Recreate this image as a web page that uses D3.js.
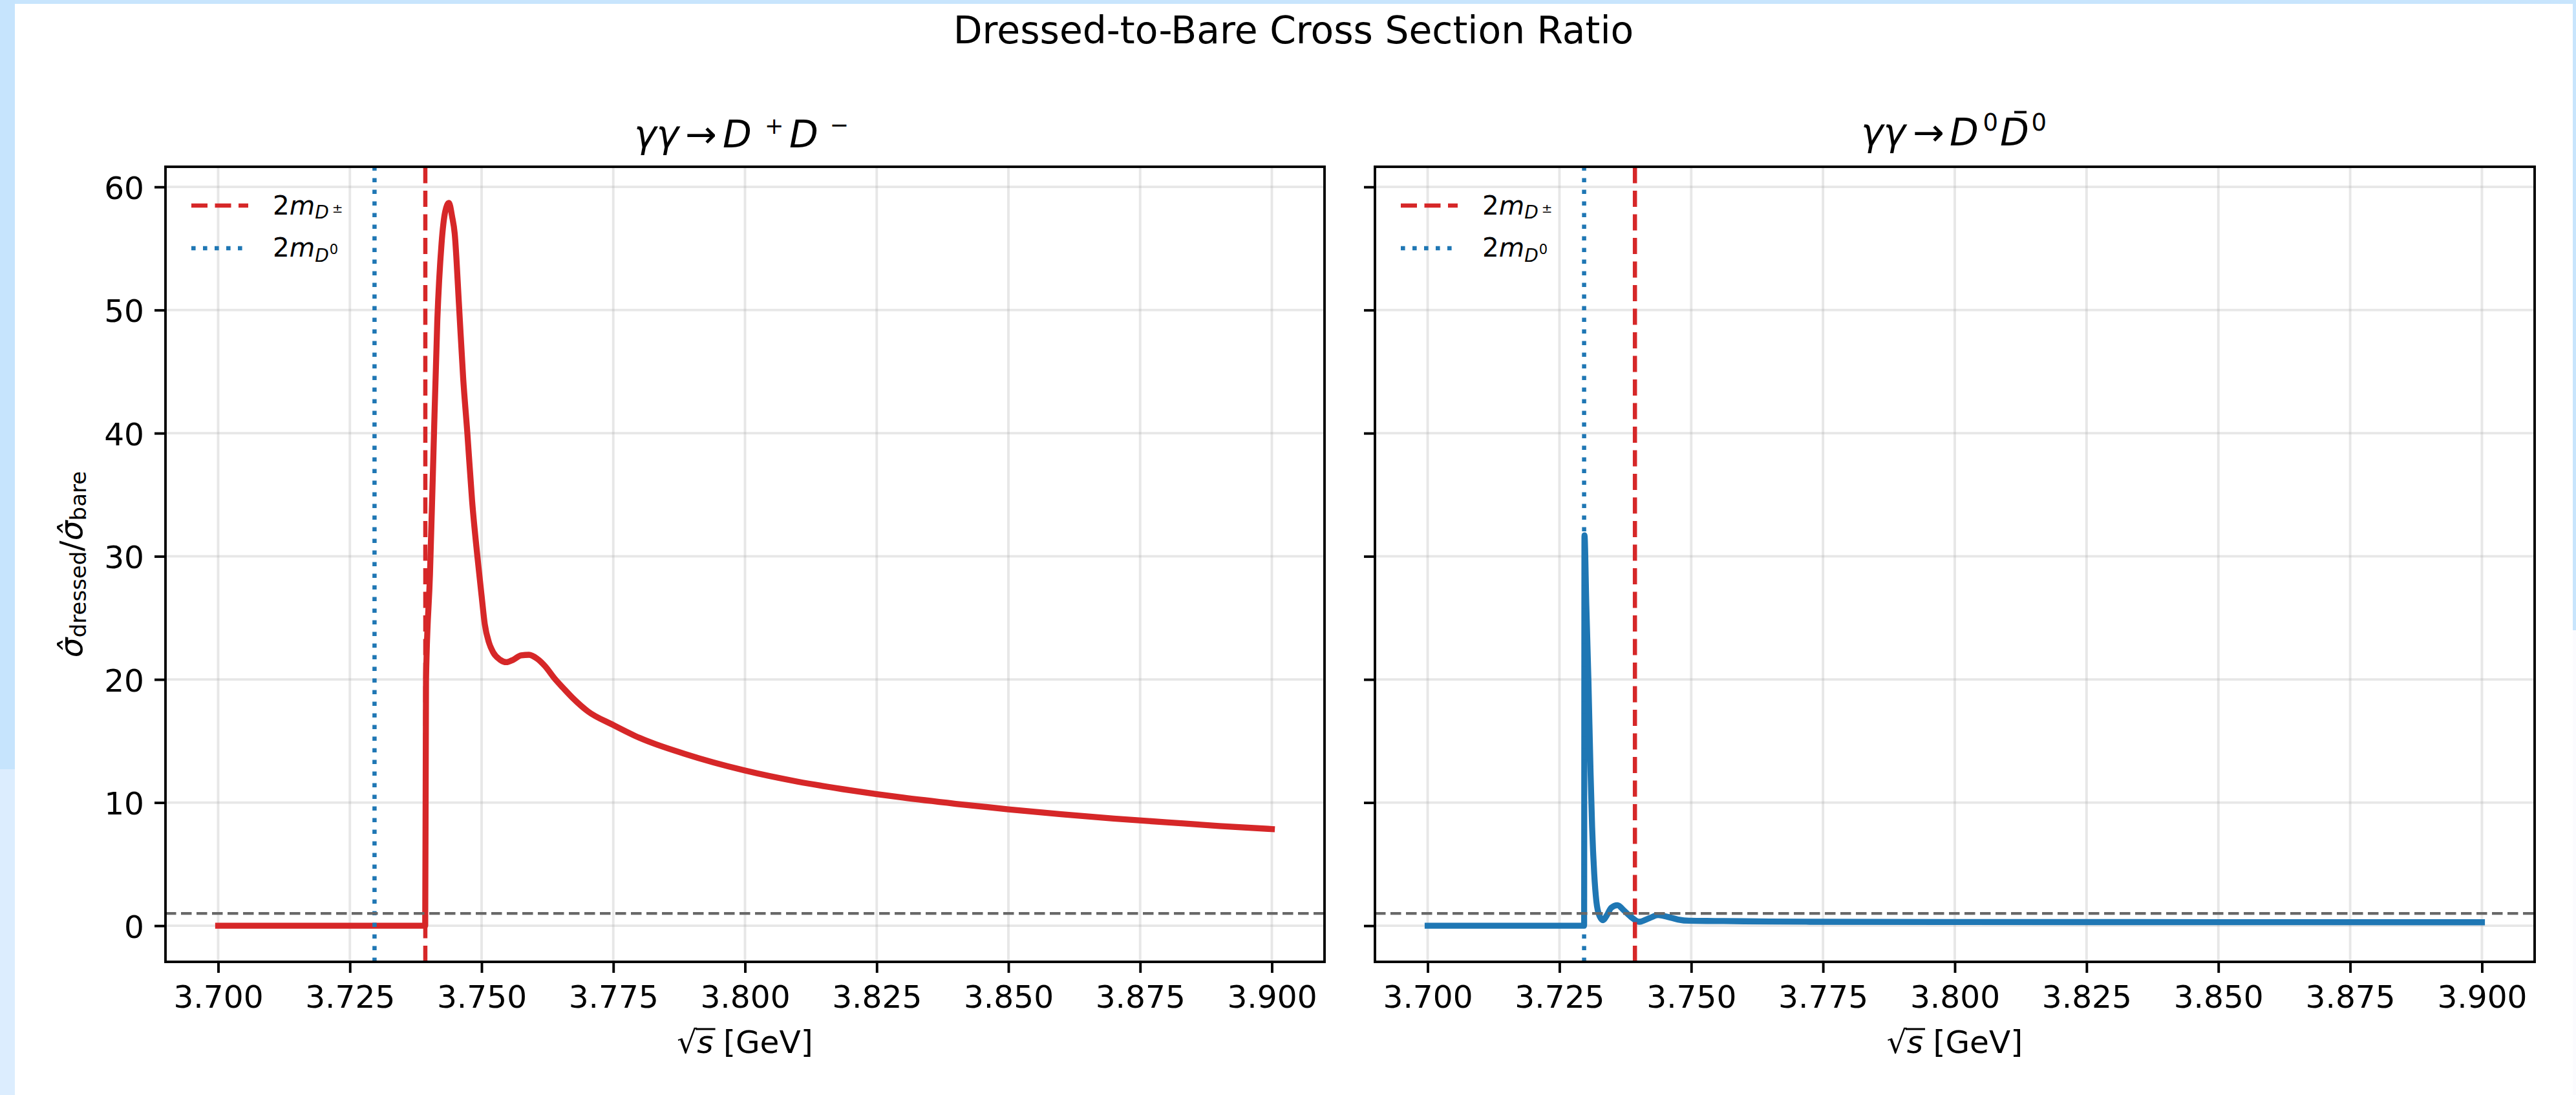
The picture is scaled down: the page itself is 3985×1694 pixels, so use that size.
<!DOCTYPE html>
<html>
<head>
<meta charset="utf-8">
<script src="https://cdn.jsdelivr.net/npm/d3@7"></script>
<style>
  html, body { margin: 0; padding: 0; background: #ffffff; overflow: hidden; }
  svg { display: block; }
  text { font-family: "DejaVu Sans", sans-serif; fill: #000; }
</style>
</head>
<body>
<svg id="fig"></svg>
<script>
// ---- data -------------------------------------------------------------
// gamma gamma -> D+ D-  : dressed / bare ratio versus sqrt(s) [GeV]
const sqrtSCharged = [3.7000, 3.7393, 3.73945, 3.7402, 3.7408, 3.7416, 3.7424, 3.7431, 3.7438,
  3.7444, 3.7449, 3.7457, 3.7465, 3.7473, 3.7482, 3.7492, 3.7500, 3.7506, 3.7514, 3.7522,
  3.7535, 3.7547, 3.7560, 3.7575, 3.7590, 3.7605, 3.7620, 3.7640, 3.7655, 3.7674, 3.7702,
  3.7750, 3.7800, 3.7886, 3.8000, 3.8100, 3.8200, 3.8300, 3.8400, 3.8500, 3.8600, 3.8700,
  3.8800, 3.8900, 3.9000];
const ratioCharged = [0, 0, 19.9, 28.5, 37.4, 49.2, 55.4, 58.0, 58.7,
  57.6, 56.2, 50.5, 44.5, 40.0, 34.5, 30.0, 26.8, 24.5, 23.0, 22.2,
  21.6, 21.4, 21.6, 21.95, 22.0, 21.7, 21.1, 20.0, 19.3, 18.45, 17.4,
  16.3, 15.25, 13.95, 12.6, 11.7, 11.0, 10.4, 9.9, 9.45, 9.05, 8.7,
  8.4, 8.1, 7.85];

// gamma gamma -> D0 D0bar : dressed / bare ratio versus sqrt(s) [GeV]
const sqrtSNeutral = [3.7000, 3.72968, 3.72975, 3.7301, 3.7305, 3.7309, 3.7312, 3.7316, 3.7320,
  3.7326, 3.7333, 3.7340, 3.7348, 3.7360, 3.7372, 3.7386, 3.7401, 3.7420, 3.7437, 3.7455,
  3.7475, 3.7496, 3.7545, 3.7600, 3.7725, 3.8000, 3.8500, 3.9000];
const ratioNeutral = [0, 0, 31.7, 26.0, 19.9, 12.5, 8.0, 4.2, 2.0,
  0.8, 0.45, 0.85, 1.45, 1.67, 1.25, 0.7, 0.32, 0.6, 0.86, 0.72,
  0.5, 0.4, 0.38, 0.36, 0.32, 0.30, 0.29, 0.28];

// pair thresholds and reference level
const twoMassDCharged = 3.73932;   // 2 m(D+-)
const twoMassDNeutral = 3.72968;   // 2 m(D0)
const bareLevel = 1;

const xTicks = [3.700, 3.725, 3.750, 3.775, 3.800, 3.825, 3.850, 3.875, 3.900];
const yTicks = [0, 10, 20, 30, 40, 50, 60];

// ---- figure geometry ----------------------------------------------------
const W = 3985, H = 1694;
const TOP = 258, BOTTOM = 1488;
const RED = "#d62728", BLUE = "#1f77b4";
const FS = 48.6;        // tick and axis-label size
const FS_TITLE = 58.3;  // titles
const FS_SUP = 35;      // superscripts in titles
const SPINE = 3.9, TICK_LEN = 17;

const svg = d3.select("#fig").attr("width", W).attr("height", H);
svg.append("rect").attr("x", 0).attr("y", 0).attr("width", W).attr("height", H).attr("fill", "#ffffff");

// window edge strips
svg.append("rect").attr("x", 0).attr("y", 0).attr("width", W).attr("height", 6).attr("fill", "#c8e5fd");
svg.append("rect").attr("x", 0).attr("y", 0).attr("width", 23).attr("height", 1190).attr("fill", "#c6e4fd");
svg.append("rect").attr("x", 0).attr("y", 1190).attr("width", 23).attr("height", H - 1190).attr("fill", "#dcedfe");
svg.append("rect").attr("x", 3980).attr("y", 0).attr("width", 5).attr("height", 975).attr("fill", "#c8e5fd");
svg.append("rect").attr("x", 3980).attr("y", 975).attr("width", 5).attr("height", H - 975).attr("fill", "#fbfbfe");

// shared scales
function paddedExtent(values) {
  const [lo, hi] = d3.extent(values);
  const pad = 0.05 * (hi - lo);
  return [lo - pad, hi + pad];
}
const xDomain = paddedExtent(sqrtSCharged.concat(sqrtSNeutral));
const yDomain = paddedExtent(ratioCharged.concat(ratioNeutral, [bareLevel]));

const panels = [
  { id: "charged", left: 256, right: 2049, xs: sqrtSCharged, ys: ratioCharged, color: RED, showY: true },
  { id: "neutral", left: 2127, right: 3921, xs: sqrtSNeutral, ys: ratioNeutral, color: BLUE, showY: false }
];

panels.forEach(p => {
  const x = d3.scaleLinear().domain(xDomain).range([p.left, p.right]);
  const y = d3.scaleLinear().domain(yDomain).range([BOTTOM, TOP]);
  const g = svg.append("g").attr("class", "panel-" + p.id);

  g.append("clipPath").attr("id", "clip-" + p.id)
    .append("rect").attr("x", p.left).attr("y", TOP)
    .attr("width", p.right - p.left).attr("height", BOTTOM - TOP);

  // grid
  const grid = g.append("g").attr("stroke", "#b0b0b0").attr("stroke-opacity", 0.3).attr("stroke-width", 3.9);
  grid.selectAll("line.vx").data(xTicks).join("line").attr("class", "vx")
    .attr("x1", d => x(d)).attr("x2", d => x(d)).attr("y1", TOP).attr("y2", BOTTOM);
  grid.selectAll("line.hy").data(yTicks).join("line").attr("class", "hy")
    .attr("x1", p.left).attr("x2", p.right).attr("y1", d => y(d)).attr("y2", d => y(d));

  const plot = g.append("g").attr("clip-path", "url(#clip-" + p.id + ")");

  // ratio curve
  const pts = p.xs.map((v, i) => [v, p.ys[i]]);
  const line = d3.line().x(d => x(d[0])).y(d => y(d[1])).curve(d3.curveMonotoneX);
  plot.append("path").datum(pts).attr("d", line)
    .attr("fill", "none").attr("stroke", p.color).attr("stroke-width", 9.3)
    .attr("stroke-linejoin", "round").attr("stroke-linecap", "square");

  // thresholds (drawn bottom to top) and unit line (left to right)
  plot.append("line").attr("x1", x(twoMassDCharged)).attr("x2", x(twoMassDCharged))
    .attr("y1", BOTTOM).attr("y2", TOP)
    .attr("stroke", RED).attr("stroke-width", 6.5).attr("stroke-dasharray", "25 11.5");
  plot.append("line").attr("x1", x(twoMassDNeutral)).attr("x2", x(twoMassDNeutral))
    .attr("y1", BOTTOM).attr("y2", TOP)
    .attr("stroke", BLUE).attr("stroke-width", 6.5).attr("stroke-dasharray", "6.6 11.4");
  plot.append("line").attr("x1", p.left).attr("x2", p.right)
    .attr("y1", y(bareLevel)).attr("y2", y(bareLevel))
    .attr("stroke", "#686868").attr("stroke-width", 4.3).attr("stroke-dasharray", "16.5 7.5");

  // axes
  const xAxis = d3.axisBottom(x).tickValues(xTicks).tickFormat(d3.format(".3f")).tickSize(TICK_LEN);
  const gx = g.append("g").attr("transform", `translate(0,${BOTTOM})`).call(xAxis);
  gx.select(".domain").remove();
  gx.selectAll(".tick line").attr("stroke", "#000").attr("stroke-width", SPINE);
  gx.selectAll(".tick text").attr("y", 70.5).attr("dy", null)
    .attr("font-size", FS).attr("font-family", "DejaVu Sans").attr("fill", "#000");

  const yAxis = d3.axisLeft(y).tickValues(yTicks).tickFormat(p.showY ? d3.format("d") : () => "").tickSize(TICK_LEN);
  const gy = g.append("g").attr("transform", `translate(${p.left},0)`).call(yAxis);
  gy.select(".domain").remove();
  gy.selectAll(".tick line").attr("stroke", "#000").attr("stroke-width", SPINE);
  gy.selectAll(".tick text").attr("x", -33).attr("dy", "0.37em")
    .attr("font-size", FS).attr("font-family", "DejaVu Sans").attr("fill", "#000");

  // frame
  g.append("rect").attr("x", p.left).attr("y", TOP)
    .attr("width", p.right - p.left).attr("height", BOTTOM - TOP)
    .attr("fill", "none").attr("stroke", "#000").attr("stroke-width", SPINE);

  // legend
  const lg = g.append("g");
  const lx0 = p.left + 40, lx1 = p.left + 128, tx = p.left + 166;
  lg.append("line").attr("x1", lx0).attr("x2", lx1).attr("y1", 318).attr("y2", 318)
    .attr("stroke", RED).attr("stroke-width", 6.5).attr("stroke-dasharray", "25 11.5");
  lg.append("line").attr("x1", lx0).attr("x2", lx1).attr("y1", 384).attr("y2", 384)
    .attr("stroke", BLUE).attr("stroke-width", 6.5).attr("stroke-dasharray", "6.6 11.4");
  const t1 = lg.append("text").attr("x", tx).attr("y", 332).attr("font-size", 40.5);
  t1.append("tspan").text("2");
  t1.append("tspan").attr("font-style", "italic").text("m");
  t1.append("tspan").attr("font-style", "italic").attr("font-size", 28).attr("dy", 6).text("D");
  t1.append("tspan").attr("font-size", 20).attr("dy", -9).attr("dx", 5).text("±");
  const t2 = lg.append("text").attr("x", tx).attr("y", 397).attr("font-size", 40.5);
  t2.append("tspan").text("2");
  t2.append("tspan").attr("font-style", "italic").text("m");
  t2.append("tspan").attr("font-style", "italic").attr("font-size", 28).attr("dy", 8).text("D");
  t2.append("tspan").attr("font-size", 21).attr("dy", -12).attr("dx", 1).text("0");

  // x label: sqrt(s) [GeV]
  const cx = (p.left + p.right) / 2;
  const xl = g.append("text").attr("x", cx).attr("y", 1629).attr("text-anchor", "middle").attr("font-size", FS);
  xl.append("tspan").text("√");
  xl.append("tspan").attr("font-style", "italic").text("s");
  xl.append("tspan").text(" [GeV]");
  const node = xl.node();
  const rootBox = node.getExtentOfChar(0);
  const sBox = node.getExtentOfChar(1);
  g.append("line").attr("x1", rootBox.x + rootBox.width - 2).attr("x2", sBox.x + sBox.width + 3)
    .attr("y1", 1592).attr("y2", 1592).attr("stroke", "#000").attr("stroke-width", 3);
});

// panel titles
(function () {
  const c = (256 + 2049) / 2, b = 228;
  const t = svg.append("g").attr("font-size", FS_TITLE);
  t.append("text").attr("x", c - 171.5).attr("y", b).attr("font-style", "italic").text("γγ");
  t.append("text").attr("x", c - 92.5).attr("y", b).text("→");
  t.append("text").attr("x", c - 34.5).attr("y", b).attr("font-style", "italic").text("D");
  t.append("text").attr("x", c + 30.5).attr("y", 207).attr("font-size", FS_SUP).text("+");
  t.append("text").attr("x", c + 68.5).attr("y", b).attr("font-style", "italic").text("D");
  t.append("text").attr("x", c + 131).attr("y", 205).attr("font-size", FS_SUP).text("−");
})();
(function () {
  const c = (2127 + 3921) / 2, b = 225;
  const t = svg.append("g").attr("font-size", FS_TITLE);
  t.append("text").attr("x", c - 145).attr("y", b).attr("font-style", "italic").text("γγ");
  t.append("text").attr("x", c - 65).attr("y", b).text("→");
  t.append("text").attr("x", c - 8).attr("y", b).attr("font-style", "italic").text("D");
  t.append("text").attr("x", c + 43.5).attr("y", 202).attr("font-size", 37).text("0");
  t.append("text").attr("x", c + 70).attr("y", b).attr("font-style", "italic").text("D");
  t.append("text").attr("x", c + 118.5).attr("y", 202).attr("font-size", 37).text("0");
  t.append("line").attr("x1", c + 92).attr("x2", c + 111)
    .attr("y1", 173.5).attr("y2", 173.5).attr("stroke", "#000").attr("stroke-width", 3.8);
})();

// y label: sigma-hat dressed / sigma-hat bare
(function () {
  const yl = svg.append("text").attr("transform", "translate(127,873) rotate(-90)")
    .attr("text-anchor", "middle").attr("font-size", FS);
  yl.append("tspan").attr("font-style", "italic").text("σ\u0302");
  yl.append("tspan").attr("font-size", 34).attr("dy", 6).text("dressed");
  yl.append("tspan").attr("dy", -6).text("/");
  yl.append("tspan").attr("font-style", "italic").text("σ\u0302");
  yl.append("tspan").attr("font-size", 34).attr("dy", 6).text("bare");
})();

// figure title
svg.append("text").attr("x", 2001).attr("y", 67).attr("text-anchor", "middle")
  .attr("font-size", FS_TITLE).text("Dressed-to-Bare Cross Section Ratio");
</script>
</body>
</html>
